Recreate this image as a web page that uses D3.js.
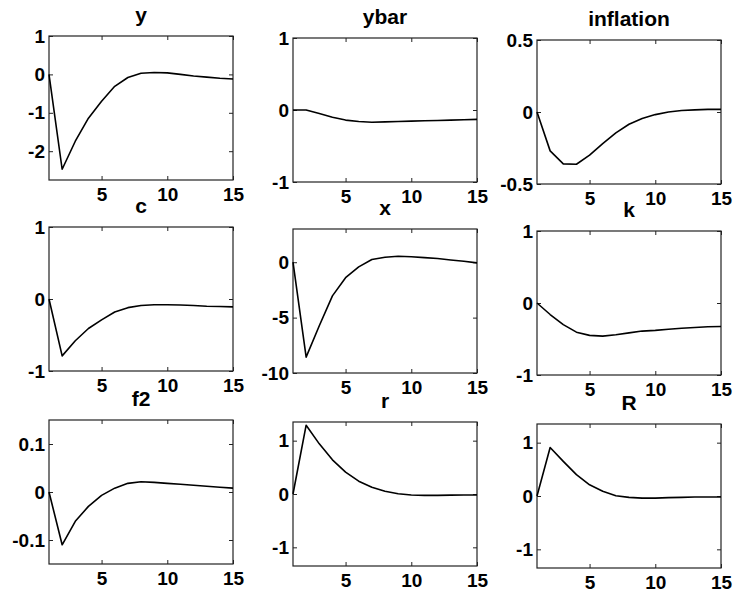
<!DOCTYPE html>
<html>
<head>
<meta charset="utf-8">
<script src="https://cdn.jsdelivr.net/npm/d3@7"></script>
<style>
  html, body { margin: 0; padding: 0; background: #fff; }
  svg text { font-family: "Liberation Sans", Arial, Helvetica, sans-serif; font-weight: bold; fill: #000; }
</style>
</head>
<body>
<svg id="chart" width="739" height="593"></svg>
<script>
// Impulse responses over 15 periods, one small array per variable
const periods = d3.range(1, 16);

const yResp        = [0, -2.47, -1.74, -1.14, -0.70, -0.31, -0.08, 0.03, 0.05, 0.04, 0.0, -0.04, -0.07, -0.10, -0.12];
const ybarResp     = [0, 0.0, -0.05, -0.10, -0.14, -0.16, -0.17, -0.165, -0.16, -0.155, -0.15, -0.145, -0.14, -0.135, -0.13];
const inflationResp= [0, -0.27, -0.36, -0.363, -0.30, -0.22, -0.145, -0.085, -0.045, -0.018, 0.0, 0.01, 0.015, 0.018, 0.018];
const cResp        = [0, -0.79, -0.58, -0.41, -0.29, -0.18, -0.12, -0.09, -0.08, -0.08, -0.083, -0.09, -0.10, -0.105, -0.11];
const xResp        = [0, -8.57, -5.73, -3.04, -1.40, -0.42, 0.24, 0.45, 0.54, 0.50, 0.42, 0.33, 0.20, 0.09, -0.06];
const kResp        = [0, -0.16, -0.30, -0.405, -0.45, -0.46, -0.44, -0.415, -0.39, -0.38, -0.364, -0.35, -0.34, -0.33, -0.327];
const f2Resp       = [0, -0.11, -0.061, -0.03, -0.007, 0.008, 0.018, 0.0215, 0.02, 0.018, 0.016, 0.014, 0.012, 0.01, 0.008];
const rResp        = [0, 1.29, 0.94, 0.64, 0.41, 0.24, 0.125, 0.05, 0.006, -0.02, -0.025, -0.025, -0.022, -0.02, -0.02];
const RResp        = [0, 0.91, 0.65, 0.40, 0.21, 0.09, 0.006, -0.025, -0.04, -0.04, -0.03, -0.025, -0.02, -0.02, -0.02];

const titles = ["y", "ybar", "inflation", "c", "x", "k", "f2", "r", "R"];
const series = [yResp, ybarResp, inflationResp, cResp, xResp, kResp, f2Resp, rResp, RResp];

// Vertical limits and tick labels for each panel
const yLimits = [[-2.75, 1], [-1, 1], [-0.5, 0.5], [-1, 1], [-10, 3], [-1, 1], [-0.15, 0.15], [-1.35, 1.35], [-1.35, 1.35]];
const yTicks  = [[-2, -1, 0, 1], [-1, 0, 1], [-0.5, 0, 0.5], [-1, 0, 1], [-10, -5, 0], [-1, 0, 1], [-0.1, 0, 0.1], [-1, 0, 1], [-1, 0, 1]];
const xTicks  = [5, 10, 15];

// 3x3 grid geometry
const colLeft = [49, 293, 537];
const colShift = [-2, 0, 2];
const rowTop = [38, 229, 422];
const boxW = 184, boxH = 144;

const svg = d3.select("#chart");
const fmt = d => String(d);

series.forEach((vals, i) => {
  const row = Math.floor(i / 3), col = i % 3;
  const left = colLeft[col];
  const top = rowTop[row] + colShift[col];

  const g = svg.append("g").attr("transform", `translate(${left},${top})`);

  const x = d3.scaleLinear().domain([1, 15]).range([0, boxW]);
  const y = d3.scaleLinear().domain(yLimits[i]).range([boxH, 0]);

  // left axis with inward ticks
  const ax = g.append("g")
    .call(d3.axisLeft(y).tickValues(yTicks[i]).tickFormat(fmt).tickSizeInner(-4).tickSizeOuter(0).tickPadding(4));
  ax.select(".domain").remove();
  ax.selectAll("text").style("font-size", "19px").attr("x", -4);

  // right mirrored ticks
  const axr = g.append("g").attr("transform", `translate(${boxW},0)`)
    .call(d3.axisRight(y).tickValues(yTicks[i]).tickFormat("").tickSizeInner(-4).tickSizeOuter(0));
  axr.select(".domain").remove();

  // bottom axis
  const bx = g.append("g").attr("transform", `translate(0,${boxH})`)
    .call(d3.axisBottom(x).tickValues(xTicks).tickFormat(fmt).tickSizeInner(-4).tickSizeOuter(0).tickPadding(8));
  bx.select(".domain").remove();
  bx.selectAll("text").style("font-size", "19px");

  // top mirrored ticks
  const tx = g.append("g")
    .call(d3.axisTop(x).tickValues(xTicks).tickFormat("").tickSizeInner(-4).tickSizeOuter(0));
  tx.select(".domain").remove();

  g.selectAll(".tick line").attr("stroke", "#222").attr("stroke-width", 1);

  // plot box
  g.append("rect")
    .attr("x", 0).attr("y", 0).attr("width", boxW).attr("height", boxH)
    .attr("fill", "none").attr("stroke", "#222").attr("stroke-width", 1.2);

  // response curve
  const line = d3.line().x((d, j) => x(periods[j])).y(d => y(d));
  g.append("path")
    .datum(vals)
    .attr("d", line)
    .attr("fill", "none")
    .attr("stroke", "#000")
    .attr("stroke-width", 1.6)
    .attr("stroke-linejoin", "round");

  // panel title
  g.append("text")
    .attr("x", boxW / 2)
    .attr("y", -14)
    .attr("text-anchor", "middle")
    .style("font-size", "21px")
    .text(titles[i]);
});
</script>
</body>
</html>
